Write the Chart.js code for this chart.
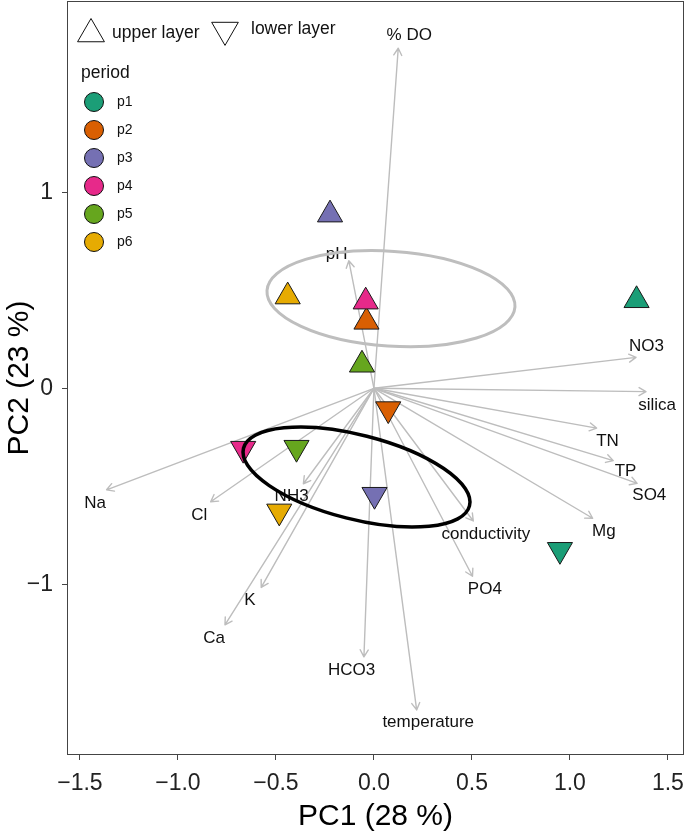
<!DOCTYPE html>
<html>
<head>
<meta charset="utf-8">
<script src="https://cdn.jsdelivr.net/npm/chart.js@4.4.0/dist/chart.umd.min.js"></script>
<style>
  html, body { margin: 0; padding: 0; background: #fff; }
  #pca { display: block; }
</style>
</head>
<body>
<canvas id="pca" width="685" height="836"></canvas>
<script>
// periods and their colours (Dark2)
const periods = ['p1', 'p2', 'p3', 'p4', 'p5', 'p6'];
const periodColors = ['#1B9E77', '#D95F02', '#7570B3', '#E7298A', '#66A61E', '#E6AB02'];

// sample scores, one per period
const upperX = [1.340, -0.038, -0.224, -0.042, -0.061, -0.440];
const upperY = [0.449, 0.339, 0.886, 0.442, 0.120, 0.468];
const lowerX = [0.949, 0.073, 0.003, -0.667, -0.395, -0.483];
const lowerY = [-0.824, -0.106, -0.543, -0.308, -0.303, -0.628];

// variable loadings (arrow tips) and where their names sit
const varNames = ['% DO', 'pH', 'NO3', 'silica', 'TN', 'TP', 'SO4', 'Mg', 'conductivity', 'PO4',
                  'temperature', 'HCO3', 'K', 'Ca', 'NH3', 'Cl', 'Na'];
const varX = [0.124, -0.128, 1.337, 1.388, 1.136, 1.221, 1.343, 1.116, 0.507, 0.503,
              0.218, -0.051, -0.575, -0.760, -0.360, -0.833, -1.364];
const varY = [1.735, 0.651, 0.158, -0.017, -0.203, -0.369, -0.485, -0.663, -0.677, -0.959,
              -1.641, -1.370, -1.016, -1.207, -0.487, -0.579, -0.518];
const labelX = [0.180, -0.190, 1.390, 1.445, 1.192, 1.284, 1.405, 1.173, 0.571, 0.566,
                0.277, -0.114, -0.633, -0.816, -0.420, -0.891, -1.423];
const labelY = [1.803, 0.685, 0.212, -0.085, -0.272, -0.426, -0.548, -0.732, -0.745, -1.026,
                -1.706, -1.437, -1.082, -1.276, -0.550, -0.646, -0.587];

// confidence ellipses: upper layer (grey), lower layer (black)
const ellipseCx = [0.087, -0.089];
const ellipseCy = [0.457, -0.453];
const ellipseA = [0.634, 0.595];
const ellipseB = [0.242, 0.215];
const ellipseDeg = [-3.8, -14.3];
const ellipseColors = ['#BEBEBE', '#000000'];

const xTicks = [-1.5, -1.0, -0.5, 0.0, 0.5, 1.0, 1.5];
const yTicks = [-1, 0, 1];

const FONT = '"Liberation Sans", Arial, Helvetica, sans-serif';

function minus(s) { return s.replace('-', '\u2212'); }

function triangle(ctx, cx, cy, r, down) {
    const s = down ? -1 : 1;
    ctx.beginPath();
    ctx.moveTo(cx, cy - s * r);
    ctx.lineTo(cx + r * Math.sqrt(3) / 2, cy + s * r / 2);
    ctx.lineTo(cx - r * Math.sqrt(3) / 2, cy + s * r / 2);
    ctx.closePath();
}

// keep the panel edges where they are, whatever the tick labels need
function noPad(s) {
    s.paddingTop = 0;
    s.paddingBottom = 0;
    s.paddingLeft = 0;
    s.paddingRight = 0;
}

const biplot = {
    id: 'biplot',
    beforeDatasetsDraw(chart) {
        const ctx = chart.ctx;
        const x = chart.scales.x, y = chart.scales.y;
        const ox = x.getPixelForValue(0), oy = y.getPixelForValue(0);
        ctx.save();
        ctx.strokeStyle = '#BDBDBD';
        ctx.lineWidth = 1.4;
        ctx.lineCap = 'round';
        ctx.lineJoin = 'round';
        varNames.forEach((name, i) => {
            const tx = x.getPixelForValue(varX[i]);
            const ty = y.getPixelForValue(varY[i]);
            const ang = Math.atan2(ty - oy, tx - ox);
            ctx.beginPath();
            ctx.moveTo(ox, oy);
            ctx.lineTo(tx, ty);
            ctx.moveTo(tx - 8 * Math.cos(ang - Math.PI / 6), ty - 8 * Math.sin(ang - Math.PI / 6));
            ctx.lineTo(tx, ty);
            ctx.lineTo(tx - 8 * Math.cos(ang + Math.PI / 6), ty - 8 * Math.sin(ang + Math.PI / 6));
            ctx.stroke();
        });
        ctx.fillStyle = '#111';
        ctx.font = '17px ' + FONT;
        ctx.textAlign = 'center';
        ctx.textBaseline = 'middle';
        varNames.forEach((name, i) => {
            ctx.fillText(name, x.getPixelForValue(labelX[i]), y.getPixelForValue(labelY[i]));
        });
        ctx.restore();
    },
    afterDatasetsDraw(chart) {
        const ctx = chart.ctx;
        const x = chart.scales.x, y = chart.scales.y;
        const area = chart.chartArea;
        ctx.save();

        // ellipses
        ellipseCx.forEach((c, i) => {
            const px = x.getPixelForValue(c), py = y.getPixelForValue(ellipseCy[i]);
            const rx = Math.abs(x.getPixelForValue(ellipseA[i]) - x.getPixelForValue(0));
            const ry = Math.abs(y.getPixelForValue(ellipseB[i]) - y.getPixelForValue(0));
            ctx.beginPath();
            ctx.ellipse(px, py, rx, ry, -ellipseDeg[i] * Math.PI / 180, 0, Math.PI * 2);
            ctx.strokeStyle = ellipseColors[i];
            ctx.lineWidth = i === 0 ? 3 : 3.5;
            ctx.stroke();
        });

        // panel border
        ctx.strokeStyle = '#444';
        ctx.lineWidth = 1;
        ctx.strokeRect(area.left + 0.5, area.top + 0.5, area.right - area.left - 1, area.bottom - area.top - 1);

        // legend: layer shapes
        const L = area.left, T = area.top;
        ctx.strokeStyle = '#111';
        ctx.lineWidth = 1;
        triangle(ctx, L + 24, T + 33, 15.5, false);
        ctx.stroke();
        triangle(ctx, L + 158, T + 29, 15.4, true);
        ctx.stroke();
        ctx.fillStyle = '#111';
        ctx.textAlign = 'left';
        ctx.textBaseline = 'middle';
        ctx.font = '17.5px ' + FONT;
        ctx.fillText('upper layer', L + 45, T + 32);
        ctx.fillText('lower layer', L + 184, T + 28);
        ctx.fillText('period', L + 14, T + 72);

        // legend: periods
        periods.forEach((p, i) => {
            const cy = T + 101 + i * 28;
            ctx.beginPath();
            ctx.arc(L + 27, cy, 9.5, 0, Math.PI * 2);
            ctx.fillStyle = periodColors[i];
            ctx.fill();
            ctx.strokeStyle = '#111';
            ctx.stroke();
            ctx.fillStyle = '#111';
            ctx.font = '14px ' + FONT;
            ctx.fillText(p, L + 50, cy);
        });
        ctx.restore();
    }
};

new Chart(document.getElementById('pca'), {
    type: 'scatter',
    data: {
        datasets: [
            {
                label: 'upper layer',
                data: periods.map((p, i) => ({ x: upperX[i], y: upperY[i] })),
                pointStyle: 'triangle',
                rotation: 0,
                pointRadius: 14.5,
                backgroundColor: periodColors,
                borderColor: '#1a1a1a',
                borderWidth: 1
            },
            {
                label: 'lower layer',
                data: periods.map((p, i) => ({ x: lowerX[i], y: lowerY[i] })),
                pointStyle: 'triangle',
                rotation: 180,
                pointRadius: 14.5,
                backgroundColor: periodColors,
                borderColor: '#1a1a1a',
                borderWidth: 1
            }
        ]
    },
    options: {
        responsive: false,
        animation: false,
        events: [],
        layout: { autoPadding: false, padding: { top: 1, right: 1, left: 0, bottom: 0 } },
        plugins: { legend: { display: false }, tooltip: { enabled: false } },
        scales: {
            x: {
                type: 'linear',
                min: -1.566,
                max: 1.582,
                afterFit: s => { s.height = 81; noPad(s); },
                afterBuildTicks: s => { s.ticks = xTicks.map(v => ({ value: v })); },
                ticks: {
                    callback: v => minus(Number(v).toFixed(1)),
                    font: { family: FONT, size: 23 },
                    color: '#222',
                    padding: 10,
                    maxRotation: 0,
                    autoSkip: false
                },
                grid: { drawOnChartArea: false, drawTicks: true, tickLength: 5, color: '#444' },
                border: { display: false },
                title: {
                    display: true,
                    text: 'PC1 (28 %)',
                    font: { family: FONT, size: 30 },
                    color: '#000',
                    padding: { top: 0, bottom: 1 }
                }
            },
            y: {
                type: 'linear',
                min: -1.871,
                max: 1.976,
                afterFit: s => { s.width = 67; noPad(s); },
                afterBuildTicks: s => { s.ticks = yTicks.map(v => ({ value: v })); },
                ticks: {
                    callback: v => minus(String(v)),
                    font: { family: FONT, size: 23 },
                    color: '#222',
                    padding: 9,
                    autoSkip: false
                },
                grid: { drawOnChartArea: false, drawTicks: true, tickLength: 5, color: '#444' },
                border: { display: false },
                title: {
                    display: true,
                    text: 'PC2 (23 %)',
                    font: { family: FONT, size: 30 },
                    color: '#000',
                    padding: { top: 2, bottom: 0 }
                }
            }
        }
    },
    plugins: [biplot]
});
</script>
</body>
</html>
